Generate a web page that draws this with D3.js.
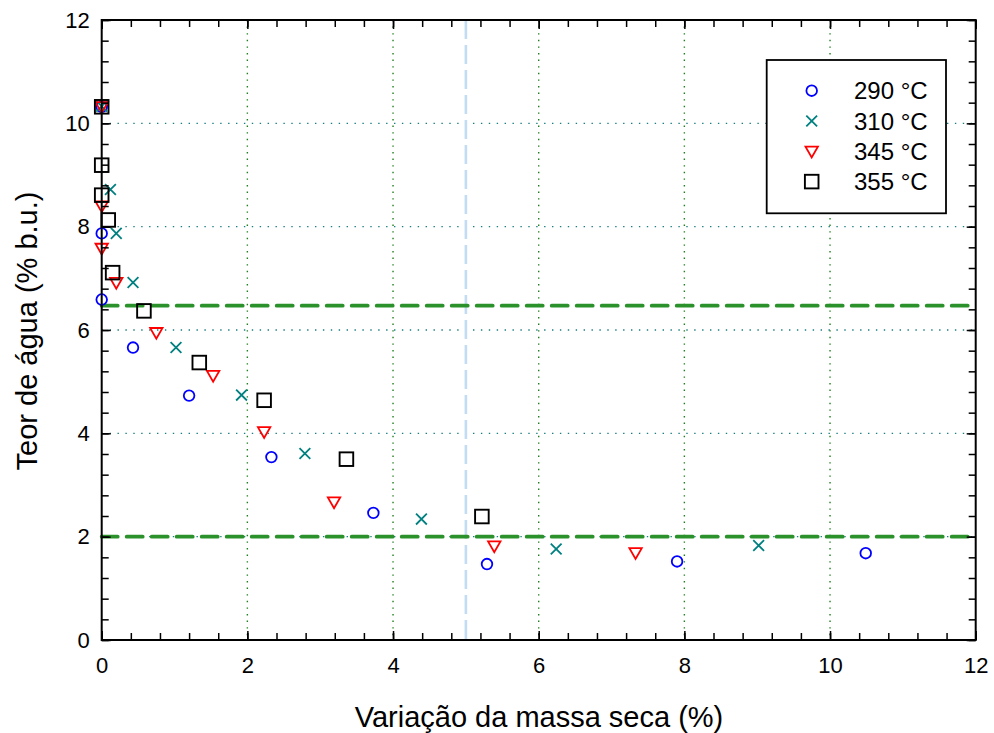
<!DOCTYPE html>
<html>
<head>
<meta charset="utf-8">
<script src="https://cdn.jsdelivr.net/npm/d3@7"></script>
<style>
  html, body { margin: 0; padding: 0; background: #fff; }
  svg { display: block; font-family: "Liberation Sans", Arial, sans-serif; }
</style>
</head>
<body>
<svg id="chart" width="994" height="733"></svg>
<script>
// Moisture content vs. dry-mass variation, four torrefaction temperatures
const seriesNames = ["290 °C", "310 °C", "345 °C", "355 °C"];

const x290 = [0, 0, 0, 0.43, 1.20, 2.33, 3.73, 5.29, 7.90, 10.49];
const y290 = [10.32, 7.87, 6.59, 5.66, 4.73, 3.54, 2.46, 1.47, 1.52, 1.68];

const x310 = [0, 0.12, 0.20, 0.43, 1.02, 1.92, 2.79, 4.39, 6.24, 9.02];
const y310 = [10.33, 8.72, 7.87, 6.92, 5.66, 4.74, 3.61, 2.34, 1.76, 1.83];

const x345 = [0, 0, 0, 0.20, 0.75, 1.53, 2.23, 3.19, 5.39, 7.33];
const y345 = [10.32, 8.40, 7.58, 6.92, 5.95, 5.12, 4.03, 2.67, 1.82, 1.69];

const x355 = [0, 0, 0, 0.09, 0.15, 0.58, 1.34, 2.23, 3.36, 5.22];
const y355 = [10.32, 9.19, 8.61, 8.13, 7.11, 6.37, 5.37, 4.64, 3.50, 2.39];

const xTicks = [0, 2, 4, 6, 8, 10, 12];
const yTicks = [0, 2, 4, 6, 8, 10, 12];
const refLevels = [6.47, 2.0];   // horizontal reference lines
const refX = [5];                // vertical reference line

const xTitle = "Variação da massa seca (%)";
const yTitle = "Teor de água (% b.u.)";

const colors = ["#0000ff", "#008080", "#ff0000", "#000000"];
const markers = ["circle", "cross", "triangle", "square"];

const series = [
  { xs: x290, ys: y290 },
  { xs: x310, ys: y310 },
  { xs: x345, ys: y345 },
  { xs: x355, ys: y355 }
].map((s, i) => ({
  name: seriesNames[i], color: colors[i], marker: markers[i],
  points: s.xs.map((x, j) => ({ x, y: s.ys[j] }))
}));

const svg = d3.select("#chart");
const m = { left: 101.7, right: 975.7, top: 20, bottom: 640 };

const x = d3.scaleLinear().domain([0, 12]).range([m.left, m.right]);
const y = d3.scaleLinear().domain([0, 12]).range([m.bottom, m.top]);

// Dotted grid
const grid = svg.append("g");
grid.selectAll("line.gx").data(xTicks.slice(1, -1)).join("line")
  .attr("x1", d => x(d)).attr("x2", d => x(d))
  .attr("y1", m.top).attr("y2", m.bottom)
  .attr("stroke", "#1f7f1f").attr("stroke-width", 1.4)
  .attr("stroke-dasharray", "1.4,5.2");
grid.selectAll("line.gy").data(yTicks.slice(1, -1)).join("line")
  .attr("x1", m.left).attr("x2", m.right)
  .attr("y1", d => y(d)).attr("y2", d => y(d))
  .attr("stroke", "#1a7f7f").attr("stroke-width", 1.4)
  .attr("stroke-dasharray", "1.4,6.5");

// Reference lines
svg.append("g").selectAll("line").data(refX).join("line")
  .attr("x1", d => x(d)).attr("x2", d => x(d))
  .attr("y1", m.top).attr("y2", m.bottom)
  .attr("stroke", "#c2dcf4").attr("stroke-width", 2.6)
  .attr("stroke-dasharray", "19,6");
svg.append("g").selectAll("line").data(refLevels).join("line")
  .attr("x1", m.left).attr("x2", m.right)
  .attr("y1", d => y(d)).attr("y2", d => y(d))
  .attr("stroke", "#2b922b").attr("stroke-width", 3.8)
  .attr("stroke-linecap", "round")
  .attr("stroke-dasharray", "16,9");

// Marker drawing
function drawMarker(g, type, color) {
  if (type === "circle") {
    g.append("circle").attr("r", 5.3).attr("fill", "none")
      .attr("stroke", color).attr("stroke-width", 1.8);
  } else if (type === "cross") {
    const s = 5.4;
    g.append("path").attr("d", `M${-s},${-s}L${s},${s}M${-s},${s}L${s},${-s}`)
      .attr("stroke", color).attr("stroke-width", 1.8).attr("fill", "none");
  } else if (type === "triangle") {
    g.append("path").attr("d", "M-6.2,-4.6L6.2,-4.6L0,6.2Z")
      .attr("fill", "none").attr("stroke", color).attr("stroke-width", 1.8);
  } else {
    g.append("rect").attr("x", -6.8).attr("y", -6.8).attr("width", 13.6).attr("height", 13.6)
      .attr("fill", "none").attr("stroke", color).attr("stroke-width", 1.9);
  }
}

// Points
series.forEach(s => {
  const g = svg.append("g");
  s.points.forEach(p => {
    const mg = g.append("g").attr("transform", `translate(${x(p.x)},${y(p.y)})`);
    drawMarker(mg, s.marker, s.color);
  });
});

// Axes with inward ticks on all four sides
const xMinor = d3.range(0, 12.001, 0.4).map(v => +v.toFixed(2));
const yMinor = d3.range(0, 12.001, 0.4).map(v => +v.toFixed(2));

function styleAxis(g) {
  g.select(".domain").remove();
  g.selectAll(".tick line").attr("stroke", "#000").attr("stroke-width", 1.5);
}

svg.append("g").attr("transform", `translate(0,${m.bottom})`)
  .call(d3.axisBottom(x).tickValues(xMinor).tickSize(-7).tickFormat(""))
  .call(styleAxis);
svg.append("g").attr("transform", `translate(0,${m.top})`)
  .call(d3.axisTop(x).tickValues(xMinor).tickSize(-7).tickFormat(""))
  .call(styleAxis);
svg.append("g").attr("transform", `translate(${m.left},0)`)
  .call(d3.axisLeft(y).tickValues(yMinor).tickSize(-7).tickFormat(""))
  .call(styleAxis);
svg.append("g").attr("transform", `translate(${m.right},0)`)
  .call(d3.axisRight(y).tickValues(yMinor).tickSize(-7).tickFormat(""))
  .call(styleAxis);

// Major ticks and labels
const xAxis = svg.append("g").attr("transform", `translate(0,${m.bottom})`)
  .call(d3.axisBottom(x).tickValues(xTicks).tickSize(-9).tickPadding(17).tickFormat(d3.format("d")))
  .call(styleAxis);
xAxis.selectAll("text").attr("font-size", 22).attr("fill", "#000")
  .attr("font-family", "Liberation Sans, Arial, sans-serif");
svg.append("g").attr("transform", `translate(0,${m.top})`)
  .call(d3.axisTop(x).tickValues(xTicks).tickSize(-9).tickFormat(""))
  .call(styleAxis);
const yAxis = svg.append("g").attr("transform", `translate(${m.left},0)`)
  .call(d3.axisLeft(y).tickValues(yTicks).tickSize(-9).tickPadding(12).tickFormat(d3.format("d")))
  .call(styleAxis);
yAxis.selectAll("text").attr("font-size", 22).attr("fill", "#000")
  .attr("font-family", "Liberation Sans, Arial, sans-serif");
svg.append("g").attr("transform", `translate(${m.right},0)`)
  .call(d3.axisRight(y).tickValues(yTicks).tickSize(-9).tickFormat(""))
  .call(styleAxis);

// Frame
svg.append("rect")
  .attr("x", m.left).attr("y", m.top)
  .attr("width", m.right - m.left).attr("height", m.bottom - m.top)
  .attr("fill", "none").attr("stroke", "#000").attr("stroke-width", 2);

// Axis titles
svg.append("text").attr("x", 539).attr("y", 727)
  .attr("text-anchor", "middle").attr("font-size", 29).text(xTitle);
svg.append("text")
  .attr("transform", `translate(37,331) rotate(-90)`)
  .attr("text-anchor", "middle").attr("font-size", 29).text(yTitle);

// Legend
const lg = svg.append("g");
lg.append("rect").attr("x", 766.7).attr("y", 60).attr("width", 179.3).attr("height", 153.3)
  .attr("fill", "#fff").attr("stroke", "#000").attr("stroke-width", 1.8);
series.forEach((s, i) => {
  const cy = 90.7 + i * 30.3;
  const mg = lg.append("g").attr("transform", `translate(811.7,${cy})`);
  drawMarker(mg, s.marker, s.color);
  lg.append("text").attr("x", 854).attr("y", cy).attr("dy", "0.36em")
    .attr("font-size", 24).text(s.name);
});
</script>
</body>
</html>
